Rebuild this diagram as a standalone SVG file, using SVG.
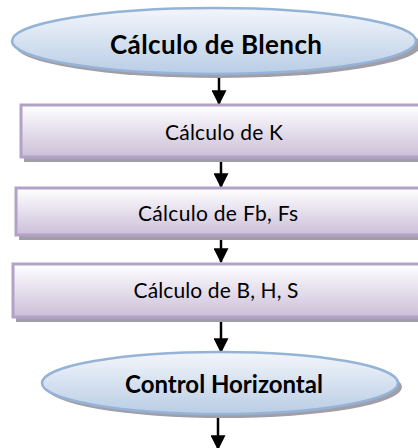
<svg xmlns="http://www.w3.org/2000/svg" width="418" height="448" viewBox="0 0 418 448">
  <style>
    .lbl { font-family: "Lato", "Open Sans", "Liberation Sans", sans-serif; fill: #000; text-anchor: middle; }
    .term { font-size: 26px; font-weight: bold; }
    .step { font-size: 21px; }
    .box { fill: url(#boxFill); stroke: #b3a2c7; stroke-width: 3; }
    .oval { fill: url(#ovalFill); stroke: #95b3d7; stroke-width: 2.5; }
    .shadow { fill: #a29ea8; }
    .edge { stroke: #000; stroke-width: 2.5; fill: none; marker-end: url(#arrow); }
  </style>
  <defs>
    <linearGradient id="boxFill" x1="0" y1="0" x2="0" y2="1">
      <stop offset="0" stop-color="#ffffff"/>
      <stop offset="1" stop-color="#cbbfd9"/>
    </linearGradient>
    <linearGradient id="ovalFill" x1="0" y1="0" x2="0" y2="1">
      <stop offset="0" stop-color="#f3f6fb"/>
      <stop offset="1" stop-color="#b9cde5"/>
    </linearGradient>
    <marker id="arrow" markerWidth="6" markerHeight="6" refX="5.5" refY="3" orient="auto" markerUnits="strokeWidth">
      <path d="M0,0 L6,3 L0,6 Z" fill="#000"/>
    </marker>
  </defs>

  <!-- connectors -->
  <g id="connectors">
    <line class="edge" x1="219" y1="75" x2="219" y2="104"/>
    <line class="edge" x1="221" y1="158" x2="221" y2="187"/>
    <line class="edge" x1="221" y1="233" x2="221" y2="262"/>
    <line class="edge" x1="221" y1="318" x2="221" y2="352"/>
    <line class="edge" x1="218" y1="418" x2="218" y2="449"/>
  </g>

  <!-- start terminator -->
  <g id="start">
    <ellipse class="shadow" cx="218" cy="45" rx="203" ry="33"/>
    <ellipse class="oval" cx="214" cy="41" rx="202" ry="33"/>
    <text class="lbl term" x="216" y="54" textLength="212">Cálculo de Blench</text>
  </g>

  <!-- process: K -->
  <g id="calc-k">
    <rect class="shadow" x="24" y="108" width="400" height="54"/>
    <rect class="box" x="21" y="105" width="400" height="52"/>
    <text class="lbl step" x="224" y="140" textLength="118">Cálculo de K</text>
  </g>

  <!-- process: Fb, Fs -->
  <g id="calc-fb-fs">
    <rect class="shadow" x="19" y="191" width="405" height="49"/>
    <rect class="box" x="16" y="188" width="405" height="47"/>
    <text class="lbl step" x="218" y="221" textLength="160">Cálculo de Fb, Fs</text>
  </g>

  <!-- process: B, H, S -->
  <g id="calc-b-h-s">
    <rect class="shadow" x="16" y="267" width="408" height="55"/>
    <rect class="box" x="13" y="264" width="408" height="53"/>
    <text class="lbl step" x="216" y="298" textLength="165">Cálculo de B, H, S</text>
  </g>

  <!-- end terminator -->
  <g id="end">
    <ellipse class="shadow" cx="224" cy="387" rx="178" ry="31"/>
    <ellipse class="oval" cx="220" cy="383" rx="178" ry="31"/>
    <text class="lbl term" x="224" y="393" style="font-size:24px">Control Horizontal</text>
  </g>
</svg>
